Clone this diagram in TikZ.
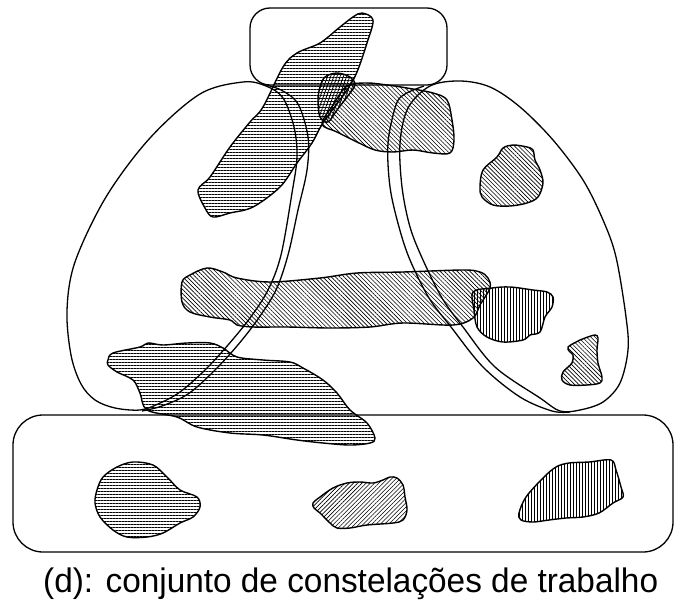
\documentclass[tikz,border=0pt]{standalone}
\usepackage{graphicx}
\usepackage{fontspec}
\setmainfont{Liberation Sans}
\usetikzlibrary{patterns.meta}
\begin{document}
\begin{tikzpicture}[x=1pt,y=-1pt,
  frame/.style={line width=1.3pt, line join=round},
  blob/.style={draw, line width=1.4pt, line join=round, pattern color=black},
  hor/.style={pattern={Lines[angle=0,distance=3pt,line width=0.6pt]}},
  nwl/.style={pattern={Lines[angle=-45,distance=3pt,line width=0.6pt]}},
  nel/.style={pattern={Lines[angle=45,distance=3pt,line width=0.6pt]}},
  ver/.style={pattern={Lines[angle=90,distance=3pt,line width=0.45pt]}},
  steep/.style={pattern={Lines[angle=70,distance=3pt,line width=0.8pt]}}]
\useasboundingbox (0,0) rectangle (676,599);
\fill[white] (0,0) rectangle (676,599);

% frames
\draw[frame, rounded corners=20pt] (250,8) rectangle (447,85);
\draw[frame, rounded corners=30pt] (13,415) rectangle (673,552);

% left loop: outer arc joined with inner line
\draw[frame] plot[smooth cycle, tension=0.55] coordinates {
 (140,410) (115,408) (95,400) (81,384) (71,355) (67,310) (75,262) (106,197)
 (150,138) (200,94) (243,82) (266,86) (283,98) (294,127) (297,157) (292,193)
 (281,255) (268,290) (250,318) (228,345) (205,370) (180,392) (158,404)};
% left loop: second line
\draw[frame] plot[smooth, tension=0.55] coordinates {
 (262,84) (281,90) (298,104) (308,137) (307,170) (298,210) (288,255)
 (276,290) (258,319) (237,346) (213,372) (188,394) (162,406) (142,411)};

% right loop: outer arc joined with inner line
\draw[frame] plot[smooth cycle, tension=0.55] coordinates {
 (430,86) (460,81) (490,87) (520,107) (553,140) (583,180) (603,220)
 (616,257) (626,317) (628,350) (620,383) (603,402) (580,410) (560,411)
 (540,398) (495,367) (463,327) (442,298) (423,260) (410,227) (402,187)
 (400,143) (408,108)};
% right loop: second line
\draw[frame] plot[smooth, tension=0.55] coordinates {
 (424,86) (405,94) (396,105) (388,143) (390,187) (399,227) (410,260)
 (429,298) (451,327) (483,367) (520,397) (552,411) (570,412)};

% shapes
\draw[blob, hor] plot[smooth cycle, tension=0.55] coordinates {
 (362,13) (373,20) (367,43) (357,72) (347,90) (323,123) (312,143) (297,163)
 (280,187) (253,207) (230,213) (213,217) (205,208) (198,190) (210,177)
 (230,147) (250,122) (263,107) (283,67) (297,53) (320,43) (340,27) (353,17)};

\draw[blob, nwl] plot[smooth cycle, tension=0.55] coordinates {
 (322,124) (333,105) (347,86) (367,83) (387,85) (407,88) (433,93) (447,100)
 (452,120) (454,140) (450,153) (433,153) (413,150) (393,152) (375,150)
 (357,142) (337,132)};

\draw[blob, steep] plot[smooth cycle, tension=0.55] coordinates {
 (325,77) (337,73) (350,77) (355,85) (347,97) (337,110) (328,122) (320,117)
 (318,100) (320,87)};

\draw[blob, nwl] plot[smooth cycle, tension=0.55] coordinates {
 (483,170) (497,157) (503,148) (513,145) (527,147) (533,150) (535,160)
 (540,170) (543,183) (538,197) (527,203) (510,206) (493,205) (482,197)
 (480,187)};

\draw[blob, nwl] plot[smooth cycle, tension=0.55] coordinates {
 (182,282) (190,275) (207,268) (223,272) (237,278) (270,282) (320,278)
 (357,273) (403,272) (463,270) (480,272) (488,278) (490,288) (480,305)
 (473,318) (453,325) (403,323) (370,327) (330,328) (287,327) (253,327)
 (237,325) (230,320) (210,317) (190,312) (182,302)};

\draw[blob, ver] plot[smooth cycle, tension=0.55] coordinates {
 (473,292) (492,288) (510,287) (533,290) (547,292) (553,297) (552,307)
 (545,317) (540,332) (530,335) (523,340) (503,342) (487,337) (477,327)
 (474,310)};

\draw[blob, nwl] plot[smooth cycle, tension=0.55] coordinates {
 (568,347) (580,340) (585,338) (595,335) (598,338) (597,350) (598,363)
 (602,377) (600,383) (587,385) (570,385) (562,380) (563,372) (572,363)
 (573,355) (570,352)};

\draw[blob, hor] plot[smooth cycle, tension=0.55] coordinates {
 (108,360) (113,353) (140,347) (148,343) (163,345) (187,343) (210,343)
 (223,348) (237,357) (263,360) (290,362) (303,368) (323,380) (337,393)
 (350,410) (367,423) (375,438) (370,443) (350,445) (323,443) (297,440)
 (263,435) (230,433) (197,427) (177,417) (147,410) (140,393) (133,380)
 (117,372) (108,365)};

\draw[blob, hor] plot[smooth cycle, tension=0.55] coordinates {
 (97,490) (103,477) (117,467) (133,462) (153,465) (167,477) (180,490)
 (197,497) (200,507) (193,517) (180,523) (163,533) (147,537) (127,537)
 (113,530) (100,517) (95,503)};

\draw[blob, nel] plot[smooth cycle, tension=0.55] coordinates {
 (313,503) (320,497) (333,488) (347,483) (360,482) (373,483) (383,480)
 (390,477) (397,478) (403,485) (405,497) (407,510) (403,520) (393,523)
 (367,525) (350,528) (337,528) (330,523) (320,513) (314,508)};

\draw[blob, ver] plot[smooth cycle, tension=0.55] coordinates {
 (519,513) (526,497) (543,478) (556,467) (569,463) (589,462) (611,460)
 (616,470) (621,487) (623,497) (613,503) (599,513) (583,517) (566,518)
 (549,520) (533,522) (521,520)};

% caption
\node[anchor=base west, inner sep=0pt] (caption) at (43,592)
 {\resizebox{615pt}{\height}{\fontsize{34pt}{37pt}\selectfont (d): conjunto de constelações de trabalho}};
\end{tikzpicture}
\end{document}
